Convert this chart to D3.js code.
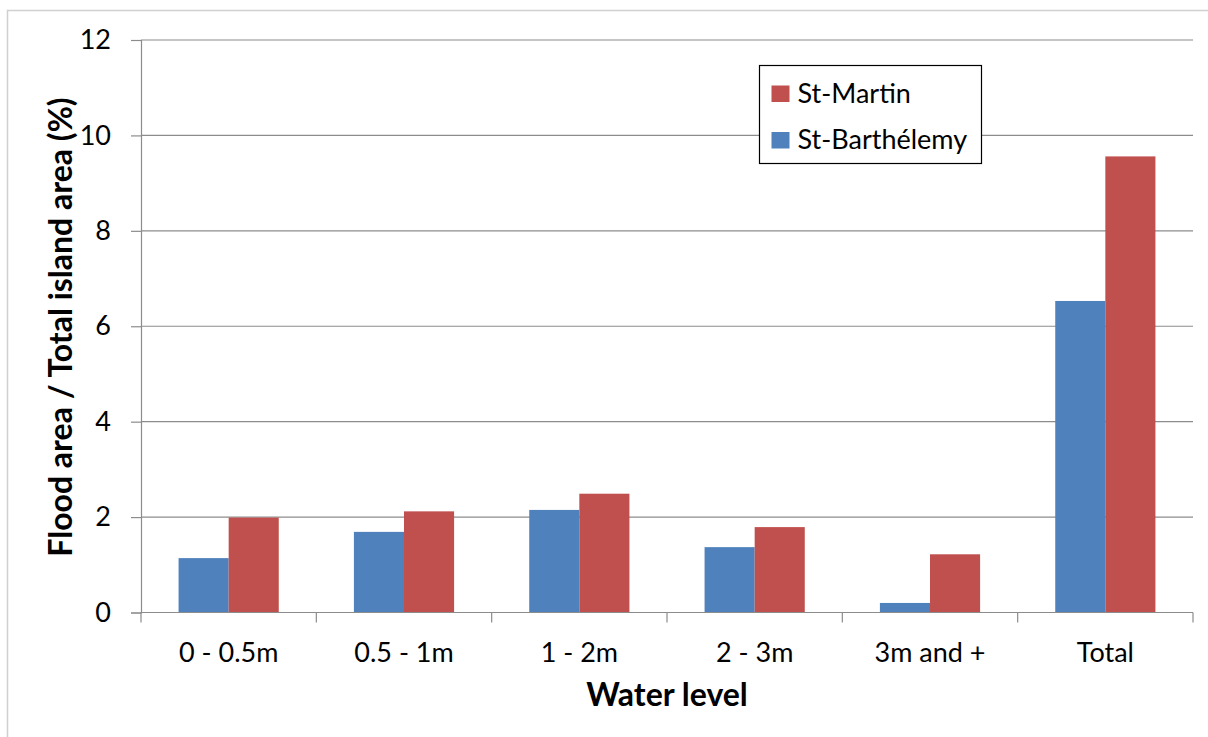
<!doctype html>
<html>
<head>
<meta charset="utf-8">
<title>Flood area</title>
<script src="https://d3js.org/d3.v7.min.js"></script>
<style>
  body { margin: 0; background: #fff; }
  text { font-family: Lato, "Open Sans", sans-serif; fill: #000; }
</style>
</head>
<body>
<script>
  // data
  var categories = ['0 - 0.5m', '0.5 - 1m', '1 - 2m', '2 - 3m', '3m and +', 'Total'];
  var stBarth = [1.14, 1.69, 2.15, 1.37, 0.20, 6.53];
  var stMartin = [1.99, 2.12, 2.49, 1.79, 1.22, 9.56];
  var yTicks = [0, 2, 4, 6, 8, 10, 12];
  var seriesNames = ['St-Barthélemy', 'St-Martin'];
  var seriesColors = ['#4F81BD', '#C0504D'];

  var W = 1208, H = 737;
  var plotL = 141, plotR = 1193, plotT = 40, plotB = 612.5;

  var svg = d3.select('body').append('svg')
      .attr('width', W)
      .attr('height', H);

  // outer chart border
  svg.append('rect')
      .attr('x', 7.5).attr('y', 10.5)
      .attr('width', W + 20).attr('height', H + 20)
      .attr('fill', 'none')
      .attr('stroke', '#d0d0d0')
      .attr('stroke-width', 1.5);

  var x = d3.scaleBand().domain(categories).range([plotL, plotR]);
  var x1 = d3.scaleBand().domain(seriesNames).range([0, x.bandwidth()]).paddingInner(0).paddingOuter(0.75);
  var y = d3.scaleLinear().domain([0, 12]).range([plotB, plotT]);

  // gridlines
  svg.append('g')
      .selectAll('line')
      .data(yTicks.slice(1))
      .enter().append('line')
      .attr('x1', plotL).attr('x2', plotR)
      .attr('y1', d => y(d)).attr('y2', d => y(d))
      .attr('stroke', '#8c8c8c')
      .attr('stroke-width', 1.2);

  // bars
  var rows = categories.map((c, i) => ({ cat: c, vals: [stBarth[i], stMartin[i]] }));
  var groups = svg.append('g')
      .selectAll('g')
      .data(rows)
      .enter().append('g')
      .attr('transform', d => 'translate(' + x(d.cat) + ',0)');
  groups.selectAll('rect')
      .data(d => d.vals.map((v, j) => ({ name: seriesNames[j], v: v, col: seriesColors[j] })))
      .enter().append('rect')
      .attr('x', d => x1(d.name))
      .attr('width', x1.bandwidth())
      .attr('y', d => y(d.v))
      .attr('height', d => y(0) - y(d.v))
      .attr('fill', d => d.col);

  // y axis
  var yAxis = svg.append('g')
      .attr('transform', 'translate(' + plotL + ',0)')
      .call(d3.axisLeft(y).tickValues(yTicks).tickSize(10).tickPadding(20));
  yAxis.select('.domain').attr('stroke', '#8c8c8c').attr('stroke-width', 1.2);
  yAxis.selectAll('.tick line').attr('stroke', '#8c8c8c').attr('stroke-width', 1.2);
  yAxis.selectAll('.tick text').attr('font-size', 27).attr('font-family', 'Lato, sans-serif').attr('fill', '#000');

  // x axis
  var xAxis = svg.append('g')
      .attr('transform', 'translate(0,' + plotB + ')')
      .call(d3.axisBottom(x).tickSize(0).tickPadding(30));
  xAxis.select('.domain').remove();
  xAxis.append('line')
      .attr('x1', plotL).attr('x2', plotR)
      .attr('stroke', '#8c8c8c').attr('stroke-width', 1.2);
  xAxis.selectAll('.sep')
      .data(d3.range(categories.length + 1))
      .enter().append('line')
      .attr('class', 'sep')
      .attr('x1', i => plotL + i * x.bandwidth())
      .attr('x2', i => plotL + i * x.bandwidth())
      .attr('y1', 0).attr('y2', 10)
      .attr('stroke', '#8c8c8c').attr('stroke-width', 1.2);
  xAxis.selectAll('.tick text').attr('font-size', 27).attr('font-family', 'Lato, sans-serif').attr('fill', '#000');

  // axis titles
  svg.append('text')
      .attr('x', (plotL + plotR) / 2)
      .attr('y', 706)
      .attr('text-anchor', 'middle')
      .attr('font-size', 32)
      .attr('font-weight', 'bold')
      .text('Water level');

  svg.append('text')
      .attr('transform', 'translate(72,327) rotate(-90)')
      .attr('text-anchor', 'middle')
      .attr('font-size', 32)
      .attr('font-weight', 'bold')
      .text('Flood area / Total island area (%)');

  // legend (St-Martin listed first)
  var legend = svg.append('g').attr('transform', 'translate(759.5,65.5)');
  legend.append('rect')
      .attr('width', 222).attr('height', 98)
      .attr('fill', '#fff')
      .attr('stroke', '#000')
      .attr('stroke-width', 1.2);
  var legendItems = [1, 0];
  legend.selectAll('g')
      .data(legendItems)
      .enter().append('g')
      .attr('transform', (d, i) => 'translate(12,' + (20 + i * 46.5) + ')')
      .each(function(d) {
        var g = d3.select(this);
        g.append('rect')
            .attr('width', 18).attr('height', 16.5)
            .attr('fill', seriesColors[d]);
        g.append('text')
            .attr('x', 26).attr('y', 17)
            .attr('font-size', 27)
            .text(seriesNames[d]);
      });
</script>
</body>
</html>
